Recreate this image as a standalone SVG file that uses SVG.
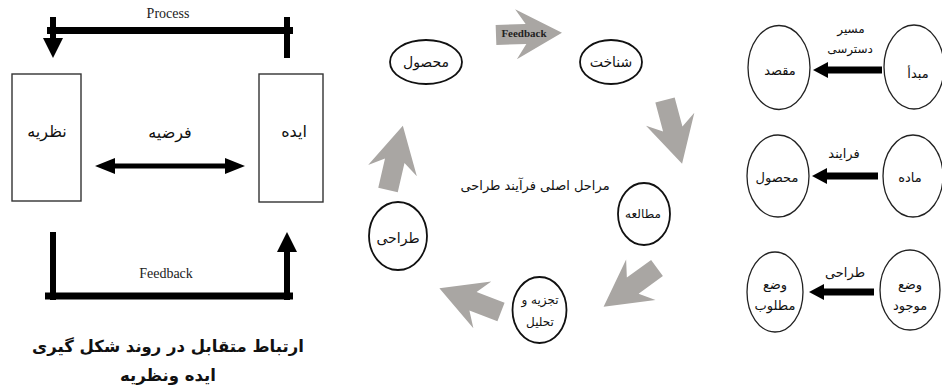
<svg xmlns="http://www.w3.org/2000/svg" width="942" height="391" viewBox="0 0 942 391">
<defs>
<style>
.fa{font-family:"DejaVu Sans",sans-serif;fill:#111;text-anchor:middle}
.la{font-family:"Liberation Serif",serif;fill:#222;text-anchor:middle}
.box{fill:#fff;stroke:#333;stroke-width:1.4}
.ell{fill:#fff;stroke:#111;stroke-width:1.8}
.ell2{fill:#fff;stroke:#222;stroke-width:1.3}
.bk{stroke:#000;fill:none}
.gr{fill:#a9a6a3}
</style>
<marker id="hd" markerUnits="userSpaceOnUse" markerWidth="20" markerHeight="20" refX="0" refY="10" orient="auto"><path d="M0,0 L20,10 L0,20 z" fill="#000"/></marker>
<marker id="hd2" markerUnits="userSpaceOnUse" markerWidth="20" markerHeight="16" refX="0" refY="8" orient="auto-start-reverse"><path d="M0,0 L20,8 L0,16 z" fill="#000"/></marker>
<marker id="hd3" markerUnits="userSpaceOnUse" markerWidth="15" markerHeight="16" refX="0" refY="8" orient="auto"><path d="M0,0 L15,8 L0,16 z" fill="#000"/></marker>
<polygon id="ga" points="0,-10 30,-10 20,-25 66,0 20,25 30,10 0,10"/>
</defs>
<rect width="942" height="391" fill="#fff"/>

<g id="connectors">
<!-- left diagram -->
<path class="bk" stroke-width="7" d="M47,30.5 H293"/>
<path class="bk" stroke-width="6" d="M53,17 V38" marker-end="url(#hd)"/>
<path class="bk" stroke-width="6" d="M287,17 V58"/>
<path class="bk" stroke-width="5" d="M115,166 H225" marker-start="url(#hd2)" marker-end="url(#hd2)"/>
<path class="bk" stroke-width="6" d="M53,232 V300"/>
<path class="bk" stroke-width="7" d="M45,296 H293"/>
<path class="bk" stroke-width="6" d="M287,300 V252" marker-end="url(#hd)"/>
<!-- middle gray arrows -->
<use href="#ga" class="gr" transform="translate(496,35) rotate(-2)"/>
<use href="#ga" class="gr" transform="translate(665,100) rotate(75)"/>
<use href="#ga" class="gr" transform="translate(657,268) rotate(144)"/>
<use href="#ga" class="gr" transform="translate(501,312) rotate(201)" fill="#9f9c99"/>
<use href="#ga" class="gr" transform="translate(388,190) rotate(-77)"/>
<!-- right arrows -->
<path class="bk" stroke-width="7" d="M882,70 H828" marker-end="url(#hd3)"/>
<path class="bk" stroke-width="7" d="M878,176 H827" marker-end="url(#hd3)"/>
<path class="bk" stroke-width="7" d="M874,292 H824" marker-end="url(#hd3)"/>
</g>

<text class="la" x="168" y="18" font-size="14">Process</text>
<text class="la" x="166" y="278" font-size="14">Feedback</text>
<text class="la" x="524" y="37" font-size="11" font-weight="bold" fill="#333">Feedback</text>
<text class="fa" x="170" y="138" font-size="16">فرضیه</text>
<text class="fa" x="168" y="352" font-size="16.5" font-weight="bold">ارتباط متقابل در روند شکل گیری</text>
<text class="fa" x="168" y="381" font-size="16.5" font-weight="bold">ایده ونظریه</text>
<text class="fa" x="535" y="190" font-size="13">مراحل اصلی فرآیند طراحی</text>
<text class="fa" x="851" y="33" font-size="12">مسیر</text>
<text class="fa" x="850" y="53" font-size="12">دسترسی</text>
<text class="fa" x="844" y="158" font-size="13">فرایند</text>
<text class="fa" x="845" y="277" font-size="13">طراحی</text>

<g id="n-nazariye"><rect class="box" x="12" y="74" width="69" height="127"/><text class="fa" x="47" y="137" font-size="16">نظریه</text></g>
<g id="n-ide"><rect class="box" x="259" y="74" width="64" height="128"/><text class="fa" x="294" y="137" font-size="16">ایده</text></g>

<g id="n-mahsul"><ellipse class="ell" cx="426" cy="62" rx="36" ry="22"/><text class="fa" x="426" y="67" font-size="14">محصول</text></g>
<g id="n-shenakht"><ellipse class="ell" cx="611" cy="62" rx="31" ry="22"/><text class="fa" x="611" y="67" font-size="14">شناخت</text></g>
<g id="n-motaleye"><ellipse class="ell" cx="644" cy="214" rx="26" ry="31"/><text class="fa" x="643" y="218" font-size="12">مطالعه</text></g>
<g id="n-tajziye"><ellipse class="ell" cx="539.5" cy="310" rx="27" ry="33"/><text class="fa" x="540" y="304" font-size="12">تجزیه و</text><text class="fa" x="540" y="326" font-size="12">تحلیل</text></g>
<g id="n-tarahi"><ellipse class="ell" cx="398" cy="236" rx="29" ry="34"/><text class="fa" x="398" y="243" font-size="14">طراحی</text></g>

<g id="n-maghsad"><ellipse class="ell2" cx="779" cy="67.5" rx="31" ry="42"/><text class="fa" x="780" y="75" font-size="13">مقصد</text></g>
<g id="n-mabda"><ellipse class="ell2" cx="914" cy="67" rx="30" ry="42"/><text class="fa" x="918" y="78" font-size="13">مبدأ</text></g>
<g id="n-mahsul2"><ellipse class="ell2" cx="778" cy="176" rx="31" ry="41"/><text class="fa" x="777" y="182" font-size="13">محصول</text></g>
<g id="n-madde"><ellipse class="ell2" cx="913" cy="176" rx="30" ry="41"/><text class="fa" x="910" y="182" font-size="13">ماده</text></g>
<g id="n-matlub"><ellipse class="ell2" cx="775" cy="292" rx="28" ry="40"/><text class="fa" x="775" y="289" font-size="13">وضع</text><text class="fa" x="775" y="310" font-size="13">مطلوب</text></g>
<g id="n-mojud"><ellipse class="ell2" cx="910" cy="290" rx="30" ry="40"/><text class="fa" x="910" y="289" font-size="13">وضع</text><text class="fa" x="910" y="310" font-size="13">موجود</text></g>
</svg>
